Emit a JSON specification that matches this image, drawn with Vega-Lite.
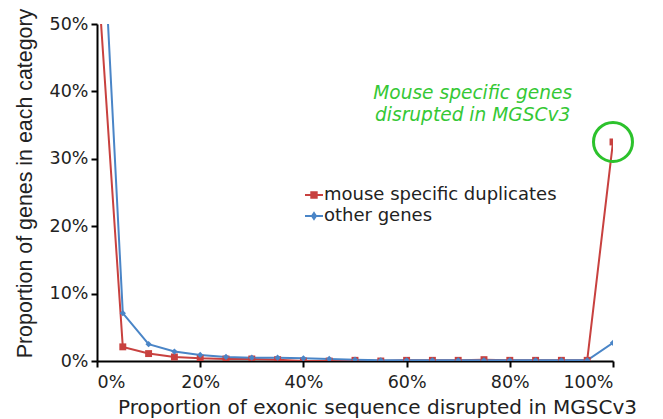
{
  "$schema": "https://vega.github.io/schema/vega-lite/v6.json",
  "width": 516,
  "height": 337,
  "autosize": {"type": "none"},
  "padding": {"left": 97, "top": 24, "right": 50, "bottom": 58},
  "background": "white",
  "config": {
    "font": "DejaVu Sans",
    "view": {"stroke": null},
    "axis": {"grid": false, "domainColor": "#000000", "domainWidth": 2, "tickColor": "#000000", "tickWidth": 2, "tickSize": 6, "labelColor": "#222222", "titleColor": "#222222", "labelFont": "DejaVu Sans", "labelFontSize": 17.5, "titleFontSize": 20, "titleFontWeight": "normal"}
  },
  "datasets": {
    "series": [
      {"x": 0.00, "y": 0.59, "series": "mouse specific duplicates"},
      {"x": 0.05, "y": 0.021, "series": "mouse specific duplicates"},
      {"x": 0.10, "y": 0.011, "series": "mouse specific duplicates"},
      {"x": 0.15, "y": 0.006, "series": "mouse specific duplicates"},
      {"x": 0.20, "y": 0.004, "series": "mouse specific duplicates"},
      {"x": 0.25, "y": 0.003, "series": "mouse specific duplicates"},
      {"x": 0.30, "y": 0.003, "series": "mouse specific duplicates"},
      {"x": 0.35, "y": 0.002, "series": "mouse specific duplicates"},
      {"x": 0.40, "y": 0.0, "series": "mouse specific duplicates"},
      {"x": 0.45, "y": 0.0, "series": "mouse specific duplicates"},
      {"x": 0.50, "y": 0.001, "series": "mouse specific duplicates"},
      {"x": 0.55, "y": 0.0, "series": "mouse specific duplicates"},
      {"x": 0.60, "y": 0.001, "series": "mouse specific duplicates"},
      {"x": 0.65, "y": 0.001, "series": "mouse specific duplicates"},
      {"x": 0.70, "y": 0.001, "series": "mouse specific duplicates"},
      {"x": 0.75, "y": 0.002, "series": "mouse specific duplicates"},
      {"x": 0.80, "y": 0.001, "series": "mouse specific duplicates"},
      {"x": 0.85, "y": 0.001, "series": "mouse specific duplicates"},
      {"x": 0.90, "y": 0.001, "series": "mouse specific duplicates"},
      {"x": 0.95, "y": 0.001, "series": "mouse specific duplicates"},
      {"x": 1.00, "y": 0.325, "series": "mouse specific duplicates"},
      {"x": 0.00, "y": 0.82, "series": "other genes"},
      {"x": 0.05, "y": 0.071, "series": "other genes"},
      {"x": 0.10, "y": 0.025, "series": "other genes"},
      {"x": 0.15, "y": 0.014, "series": "other genes"},
      {"x": 0.20, "y": 0.009, "series": "other genes"},
      {"x": 0.25, "y": 0.006, "series": "other genes"},
      {"x": 0.30, "y": 0.005, "series": "other genes"},
      {"x": 0.35, "y": 0.005, "series": "other genes"},
      {"x": 0.40, "y": 0.004, "series": "other genes"},
      {"x": 0.45, "y": 0.003, "series": "other genes"},
      {"x": 0.50, "y": 0.002, "series": "other genes"},
      {"x": 0.55, "y": 0.001, "series": "other genes"},
      {"x": 0.60, "y": 0.001, "series": "other genes"},
      {"x": 0.65, "y": 0.001, "series": "other genes"},
      {"x": 0.70, "y": 0.001, "series": "other genes"},
      {"x": 0.75, "y": 0.001, "series": "other genes"},
      {"x": 0.80, "y": 0.001, "series": "other genes"},
      {"x": 0.85, "y": 0.001, "series": "other genes"},
      {"x": 0.90, "y": 0.001, "series": "other genes"},
      {"x": 0.95, "y": 0.001, "series": "other genes"},
      {"x": 1.00, "y": 0.027, "series": "other genes"}
    ],
    "note": [
      {"x": 0.728, "y": 0.397, "label": ["Mouse specific genes", "disrupted in MGSCv3"]}
    ],
    "highlight": [
      {"x": 1.0, "y": 0.325}
    ]
  },
  "layer": [
    {
      "data": {"name": "series"},
      "mark": {"type": "line", "clip": true, "strokeWidth": 2},
      "encoding": {
        "x": {"field": "x", "type": "quantitative", "scale": {"domain": [0, 1], "nice": false},
              "axis": {"format": "%", "values": [0, 0.2, 0.4, 0.6, 0.8, 1], "title": "Proportion of exonic sequence disrupted in MGSCv3", "titleFont": "DejaVu Sans", "titleFontSize": 20, "titleX": 280, "titleAlign": "center", "labelPadding": 6, "titlePadding": 7}},
        "y": {"field": "y", "type": "quantitative", "scale": {"domain": [0, 0.5], "nice": false},
              "axis": {"format": "%", "values": [0, 0.1, 0.2, 0.3, 0.4, 0.5], "title": "Proportion of genes in each category", "titleFont": "Liberation Sans", "titleFontSize": 21.4, "titleY": 159, "titleAlign": "center", "labelPadding": 3, "titlePadding": 14}},
        "color": {"field": "series", "type": "nominal",
                  "scale": {"domain": ["mouse specific duplicates", "other genes"], "range": ["#c8413f", "#4a85c7"]},
                  "legend": {"title": null, "orient": "none", "legendX": 207, "legendY": 161, "labelFontSize": 18, "labelLimit": 400, "labelColor": "#222222", "labelFont": "DejaVu Sans", "symbolSize": 324, "symbolStrokeWidth": 2, "labelOffset": 0, "rowPadding": 2,
                    "encode": {"symbols": {"update": {
                      "shape": {"signal": "datum.value === 'other genes' ? 'M-1,0H1M0,-0.32L0.22,0L0,0.32L-0.22,0Z' : 'M-1,0H1M-0.3,-0.3H0.3V0.3H-0.3Z'"},
                      "fill": {"signal": "scale('color', datum.value)"},
                      "stroke": {"signal": "scale('color', datum.value)"},
                      "strokeWidth": {"value": 2},
                      "opacity": {"value": 1}
                    }}}}}
      }
    },
    {
      "data": {"name": "series"},
      "transform": [{"filter": "datum.series === 'mouse specific duplicates'"}],
      "mark": {"type": "point", "shape": "square", "size": 48, "filled": true, "clip": true, "opacity": 1},
      "encoding": {
        "x": {"field": "x", "type": "quantitative"},
        "y": {"field": "y", "type": "quantitative"},
        "color": {"field": "series", "type": "nominal"}
      }
    },
    {
      "data": {"name": "series"},
      "transform": [{"filter": "datum.series === 'other genes'"}],
      "mark": {"type": "point", "shape": "diamond", "size": 40, "filled": true, "clip": true, "opacity": 1},
      "encoding": {
        "x": {"field": "x", "type": "quantitative"},
        "y": {"field": "y", "type": "quantitative"},
        "color": {"field": "series", "type": "nominal"}
      }
    },
    {
      "data": {"name": "highlight"},
      "mark": {"type": "point", "shape": "circle", "filled": false, "size": 1520, "stroke": "#2cc22c", "strokeWidth": 3, "opacity": 1},
      "encoding": {
        "x": {"field": "x", "type": "quantitative"},
        "y": {"field": "y", "type": "quantitative"}
      }
    },
    {
      "data": {"name": "note"},
      "mark": {"type": "text", "font": "DejaVu Sans", "fontStyle": "italic", "fontSize": 18.6, "color": "#35c835", "align": "center", "baseline": "middle", "lineHeight": 22},
      "encoding": {
        "x": {"field": "x", "type": "quantitative"},
        "y": {"field": "y", "type": "quantitative"},
        "text": {"field": "label"}
      }
    }
  ]
}
